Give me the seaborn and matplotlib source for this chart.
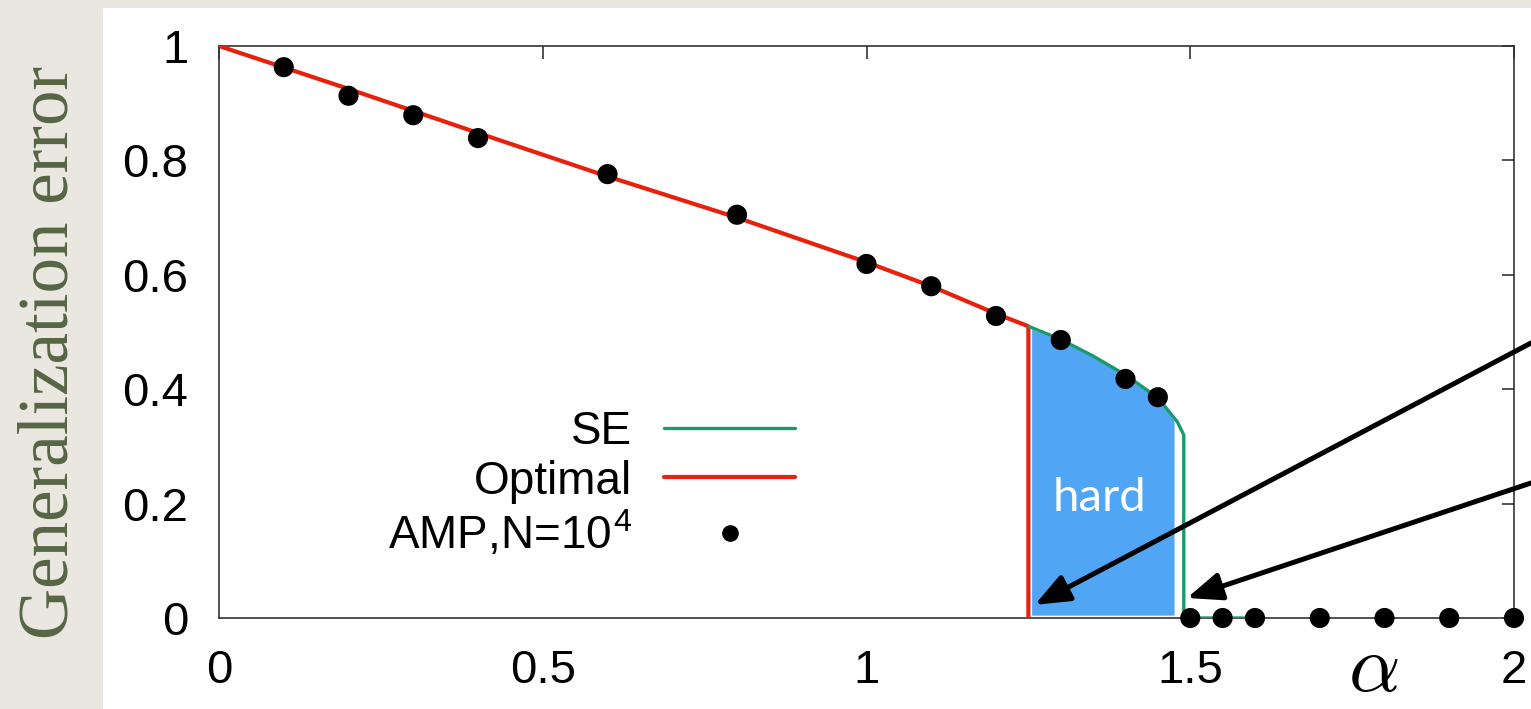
import numpy as np
import pandas as pd
import matplotlib
matplotlib.use("Agg")
import matplotlib.pyplot as plt
from matplotlib.lines import Line2D
from matplotlib.patches import Rectangle
import seaborn as sns

# Optimal (red) curve
opt_alpha = [0.0, 0.2, 0.4, 0.6, 0.8, 1.0, 1.1, 1.2, 1.25, 1.25]
opt_err = [1.0, 0.925, 0.848, 0.772, 0.700, 0.622, 0.580, 0.532, 0.510, 0.0]

# SE (green) curve
se_alpha = [1.25, 1.30, 1.35, 1.40, 1.45, 1.48, 1.49, 1.49, 1.60]
se_err = [0.510, 0.487, 0.458, 0.425, 0.385, 0.343, 0.320, 0.0, 0.0]

# AMP, N=10^4 points
amp_alpha = [0.1, 0.2, 0.3, 0.4, 0.6, 0.8, 1.0, 1.1, 1.2, 1.3, 1.4, 1.45,
             1.5, 1.55, 1.6, 1.7, 1.8, 1.9, 2.0]
amp_err = [0.963, 0.913, 0.879, 0.839, 0.776, 0.705, 0.619, 0.580, 0.528,
           0.486, 0.418, 0.386, 0, 0, 0, 0, 0, 0, 0]

# hard region
hard_alpha = [1.255, 1.30, 1.35, 1.40, 1.45, 1.475]
hard_err = [0.505, 0.485, 0.456, 0.423, 0.383, 0.345]

sns.set_style("white")
plt.rcParams["font.family"] = ["Liberation Sans", "DejaVu Sans"]
plt.rcParams["mathtext.fontset"] = "cm"

RED = "#e8200c"
GREEN = "#1a9a6c"
BLUE = "#50a5f5"

fig = plt.figure(figsize=(15.31, 7.09), dpi=100)
fig.patch.set_facecolor("#e9e7df")
fig.patches.append(Rectangle((103 / 1531, 0), 1, 1 - 8 / 709, transform=fig.transFigure,
                             facecolor="white", edgecolor="none", zorder=-10))
ax = fig.add_axes([219 / 1531, 1 - 618 / 709, 1295 / 1531, 572 / 709])
ax.set_facecolor("none")

ax.fill_between(hard_alpha, 0.005, hard_err, color=BLUE, lw=0, zorder=1)

opt_df = pd.DataFrame({"alpha": opt_alpha, "err": opt_err})
se_df = pd.DataFrame({"alpha": se_alpha, "err": se_err})
amp_df = pd.DataFrame({"alpha": amp_alpha, "err": amp_err})

sns.lineplot(data=opt_df, x="alpha", y="err", sort=False, estimator=None,
             color=RED, lw=3, ax=ax, zorder=3)
sns.lineplot(data=se_df, x="alpha", y="err", sort=False, estimator=None,
             color=GREEN, lw=2.4, ax=ax, zorder=3)
sns.scatterplot(data=amp_df, x="alpha", y="err", color="black", s=210,
                edgecolor="none", ax=ax, zorder=5, clip_on=False)

ax.set_xlim(0, 2)
ax.set_ylim(0, 1)
ax.set_xticks([0, 0.5, 1, 1.5, 2])
ax.set_xticklabels(["0", "0.5", "1", "1.5", "2"])
ax.set_yticks([0, 0.2, 0.4, 0.6, 0.8, 1])
ax.set_yticklabels(["0", "0.2", "0.4", "0.6", "0.8", "1"])
ax.tick_params(direction="in", length=9, width=1.2, labelsize=34, color="#333333",
               labelcolor="black", top=True, right=True, pad=22)
ax.tick_params(axis="x", pad=22)
for s in ax.spines.values():
    s.set_color("#333333")
    s.set_linewidth(1.2)
ax.set_xlabel("")
ax.set_ylabel("")

ax.text(1.36, 0.21, "hard", color="white", fontsize=34, ha="center", va="center",
        family=["Lato", "DejaVu Sans"], zorder=4)

# arrows
for tip, start in [((1.26, 0.023), (1.0, 1 - 343 / 709)),
                   ((1.495, 0.035), (1.0, 1 - 483 / 709))]:
    ax.annotate("", xy=tip, xycoords="data", xytext=start, textcoords="figure fraction",
                arrowprops=dict(arrowstyle="-|>,head_length=2.1,head_width=0.85",
                                color="black", lw=3.6, shrinkA=0, shrinkB=0),
                annotation_clip=False, zorder=6)

handles = [Line2D([], [], color=GREEN, lw=2.4),
           Line2D([], [], color=RED, lw=3),
           Line2D([], [], color="black", marker="o", ls="none", ms=11)]
labels = ["SE", "Optimal", r"AMP,N=10$^{\mathregular{4}}$"]
leg = ax.legend(handles, labels, loc="upper right",
                bbox_to_anchor=(795 / 1531, 1 - 410 / 709),
                bbox_transform=fig.transFigure, frameon=False, fontsize=33,
                markerfirst=False, handlelength=2.85, handletextpad=0.7,
                labelspacing=0.12, borderpad=0, borderaxespad=0)
for t in leg.get_texts():
    t.set_ha("right")
    t.set_color("black")

fig.text(50 / 1531, 1 - 352 / 709, "Generalization error", rotation=90,
         ha="center", va="center", color="#566544", fontsize=51,
         family=["Liberation Serif", "DejaVu Serif"])
fig.text(1373 / 1531, 1 - 670 / 709, r"$\alpha$", ha="center", va="center",
         fontsize=58, color="black")

fig.savefig("out.png", dpi=100, facecolor=fig.get_facecolor())
